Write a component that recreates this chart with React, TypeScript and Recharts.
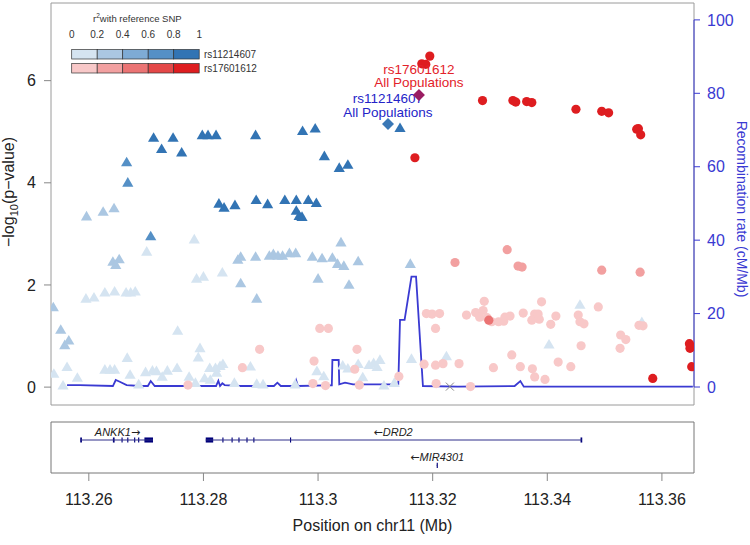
import React from "react";
import {
  ComposedChart,
  Scatter,
  Line,
  XAxis,
  YAxis,
  ReferenceArea,
  ReferenceLine,
} from "recharts";

// regional association plot: two reference SNPs, LD-coloured markers,
// recombination rate on the right axis, gene track underneath

const FONT = "'Liberation Sans', Arial, Helvetica, sans-serif";

const X_MIN = 113.2534;
const X_MAX = 113.3656;
const xTicks = [113.26, 113.28, 113.3, 113.32, 113.34, 113.36];
const pTicks = [0, 2, 4, 6];
const recTicks = [0, 20, 40, 60, 80, 100];
const ldBreaks = ["0", "0.2", "0.4", "0.6", "0.8", "1"];

const blueShades = ["#d5e4f1", "#abc7e2", "#7eabd5", "#5590c6", "#3274b4"];
const redShades = ["#f8c8c8", "#f2a0a0", "#eb7474", "#e44848", "#de1d20"];
const RECOMB_BLUE = "#3a3ad2";

// rs11214607 LD (triangles), [position Mb, -log10 p]
const blueLd5: [number, number][] = [
  [113.2713, 4.89], [113.2747, 4.89], [113.2727, 4.67], [113.2762, 4.6], [113.2798, 4.94],
  [113.2808, 4.94], [113.2822, 4.94], [113.2891, 4.94], [113.2973, 5.02], [113.2995, 5.07],
  [113.3011, 4.53], [113.3037, 4.3], [113.3052, 4.36], [113.3143, 5.08],
  [113.2827, 3.6], [113.2836, 3.52], [113.2855, 3.57], [113.2892, 3.67], [113.2912, 3.59],
  [113.2942, 3.67], [113.2962, 3.67], [113.2983, 3.67], [113.2997, 3.61], [113.2962, 3.46],
  [113.2967, 3.36], [113.2972, 3.34],
];
const blueLd4: [number, number][] = [[113.2666, 4.41], [113.2668, 4.01], [113.2708, 2.96]];
const blueLd2: [number, number][] = [
  [113.2596, 3.35], [113.2625, 3.44], [113.2644, 3.51], [113.2642, 2.46], [113.2653, 2.51],
  [113.2647, 2.4], [113.286, 2.5], [113.2865, 2.56], [113.2891, 2.56], [113.2915, 2.58],
  [113.2922, 2.61], [113.293, 2.58], [113.2938, 2.58], [113.295, 2.63], [113.2961, 2.63],
  [113.299, 2.56], [113.3007, 2.53], [113.3025, 2.54], [113.3034, 2.42], [113.3045, 2.38],
  [113.307, 2.47], [113.304, 2.84], [113.3, 2.13], [113.2865, 2.04], [113.2893, 1.74],
  [113.3054, 2.01], [113.3161, 2.42], [113.2538, 1.57], [113.2551, 1.13], [113.2558, 0.83],
  [113.2565, 0.92],
];
const blueLd1: [number, number][] = [
  [113.2701, 2.66], [113.2784, 2.9], [113.2788, 2.13], [113.28, 2.17], [113.2833, 2.25],
  [113.2595, 1.74], [113.2609, 1.76], [113.2628, 1.86], [113.2645, 1.88], [113.2665, 1.86],
  [113.2673, 1.86], [113.2681, 1.88], [113.2755, 1.11], [113.2794, 0.77], [113.2791, 0.59],
  [113.3163, 0.56], [113.2539, 0.27], [113.2562, 0.4], [113.258, 0.19], [113.2555, 0.04],
  [113.2667, 0.58], [113.2628, 0.35], [113.2637, 0.35], [113.2645, 0.35], [113.2672, 0.25],
  [113.2687, 0.06], [113.2699, 0.3], [113.2711, 0.33], [113.2718, 0.32], [113.2728, 0.21],
  [113.2737, 0.33], [113.2754, 0.38], [113.2775, 0.21], [113.2786, 0.09], [113.2802, 0.18],
  [113.2812, 0.15], [113.2811, 0.38], [113.2821, 0.38], [113.2829, 0.42], [113.2834, 0.46],
  [113.2823, 0.29], [113.2854, 0.09], [113.2882, 0.41], [113.2893, 0.07], [113.2904, 0.06],
  [113.296, 0.06], [113.2998, 0.32], [113.301, 0.22], [113.3043, 0.43], [113.3052, 0.37],
  [113.307, 0.46], [113.3078, 0.2], [113.3089, 0.44], [113.3097, 0.48], [113.3108, 0.54],
  [113.3103, 0.4], [113.3115, 0.04], [113.3133, 0.09], [113.3224, 0.61], [113.3403, 0.84],
  [113.3457, 1.62], [113.3565, 1.28],
];

// rs17601612 LD (circles)
const redLd5: [number, number][] = [
  [113.3195, 6.48], [113.3181, 6.33], [113.3188, 6.32], [113.3287, 5.61], [113.334, 5.61],
  [113.3345, 5.58], [113.3364, 5.59], [113.3373, 5.57], [113.345, 5.44], [113.3495, 5.4],
  [113.3507, 5.37], [113.3556, 5.05], [113.3559, 5.06], [113.3563, 4.94], [113.3169, 4.49],
  [113.3584, 0.17], [113.3648, 0.85], [113.3649, 0.76], [113.365, 0.79], [113.3652, 0.4],
];
const redLd3: [number, number][] = [[113.3298, 1.31]];
const redLd2: [number, number][] = [
  [113.3239, 2.44], [113.333, 2.69], [113.3349, 2.37], [113.3356, 2.35], [113.3495, 2.29],
  [113.3562, 2.25],
];
const redLd1: [number, number][] = [
  [113.2773, 0.04], [113.2868, 0.38], [113.2898, 0.74], [113.3003, 1.15], [113.3018, 1.15],
  [113.2993, 0.51], [113.2991, 0.07], [113.3013, 0.03], [113.3068, 0.74], [113.3064, 0.35],
  [113.3072, 0.04], [113.3141, 0.21], [113.3189, 1.44], [113.3199, 1.43], [113.3212, 1.44],
  [113.3205, 1.15], [113.3185, 0.45], [113.3205, 0.43], [113.3218, 0.46], [113.3206, 0.07],
  [113.3246, 0.46], [113.3266, 0.01], [113.3259, 1.41], [113.3275, 1.46], [113.3282, 1.37],
  [113.3288, 1.5], [113.3295, 1.36], [113.329, 1.68], [113.3303, 1.28], [113.3315, 1.28],
  [113.3324, 1.29], [113.3326, 1.37], [113.3335, 1.39], [113.3358, 1.45], [113.3373, 1.31],
  [113.3378, 1.43], [113.3384, 1.43], [113.3386, 1.33], [113.339, 1.67], [113.3406, 1.23],
  [113.3415, 1.39], [113.3454, 1.41], [113.3457, 1.28], [113.3464, 1.24], [113.3489, 1.57],
  [113.356, 1.21], [113.3567, 1.2], [113.3528, 1.02], [113.3537, 0.93], [113.3527, 0.76],
  [113.3459, 0.81], [113.3338, 0.63], [113.3306, 0.38], [113.3353, 0.4], [113.3374, 0.36],
  [113.3378, 0.2], [113.3419, 0.49], [113.3441, 0.4], [113.3396, 0.15],
];
const noLd: [number, number][] = [[113.323, 0.01]];

const refSnpIds = ["rs11214607", "rs17601612"];
const refSnpPos = [113.3122, 113.3176];
const refSnpLogP = [5.15, 5.72];
const refSnpColors = ["#3a78b6", "#9a1c62"];
const refLabelColors = ["#2424c8", "#e3222a"];

// recombination rate, [position Mb, cM/Mb]
const recomb: [number, number][] = [
  [113.2562, 0.54], [113.2584, 0.54], [113.2642, 0.27], [113.2647, 1.9], [113.2654, 1.44],
  [113.2666, 0.54], [113.2689, 0.27], [113.2703, 0.27], [113.2708, 1.63], [113.2715, 0.27],
  [113.2822, 0.27], [113.2826, 1.72], [113.2829, 0.27], [113.2833, 1.0], [113.2837, 0.54],
  [113.2864, 0.27], [113.2923, 0.27], [113.2929, 1.17], [113.2935, 0.27], [113.296, 0.27],
  [113.2962, 1.72], [113.2965, 0.27], [113.3015, 0.46], [113.3024, 0.46], [113.3025, 7.36],
  [113.3036, 7.36], [113.3037, 0.74], [113.3047, 1.17], [113.3061, 0.74], [113.314, 0.74],
  [113.3143, 18.26], [113.3151, 18.26], [113.3163, 30.05], [113.3171, 30.05], [113.3183, 0.27],
  [113.3244, 0.08], [113.3343, 0.27], [113.3353, 1.63], [113.3359, 0.08], [113.3654, 0.08],
];

// genes
const geneNames = ["ANKK1", "DRD2", "MIR4301"];
const geneStrand = ["+", "-", "-"];
const geneStart = [113.2586, 113.2804, 113.3207];
const geneEnd = [113.2712, 113.346, 113.3209];
const geneRow = [0.647, 0.647, 0.15];
const geneLabelPos = [113.265, 113.3131, 113.3208];
const geneExons: [number, number][][] = [
  [[113.2585, 113.2588], [113.2642, 113.2645], [113.2657, 113.2659], [113.2667, 113.2669],
   [113.2679, 113.2681], [113.2686, 113.2688], [113.2697, 113.2712]],
  [[113.2804, 113.2817], [113.2833, 113.2835], [113.2849, 113.2851], [113.2861, 113.2863],
   [113.2875, 113.2877], [113.2887, 113.2889], [113.2951, 113.2953], [113.3458, 113.3461]],
  [[113.3207, 113.3209]],
];

const pts = (arr: [number, number][]) => arr.map(([pos, logp]) => ({ pos, logp }));

const triangle = (fill: string) => (p: any) => (
  <polygon
    points={`${p.cx},${p.cy - 5.2} ${p.cx - 5.6},${p.cy + 4.4} ${p.cx + 5.6},${p.cy + 4.4}`}
    fill={fill}
  />
);
const circle = (fill: string) => (p: any) => <circle cx={p.cx} cy={p.cy} r={4.6} fill={fill} />;
const cross = (p: any) => (
  <g stroke="#888" strokeWidth={1}>
    <line x1={p.cx - 4} y1={p.cy - 4} x2={p.cx + 4} y2={p.cy + 4} />
    <line x1={p.cx - 4} y1={p.cy + 4} x2={p.cx + 4} y2={p.cy - 4} />
  </g>
);

function RefSnp(p: any) {
  const i = p.payload.idx;
  const { cx, cy } = p;
  return (
    <g>
      <polygon
        points={`${cx},${cy - 6} ${cx + 6},${cy} ${cx},${cy + 6} ${cx - 6},${cy}`}
        fill={refSnpColors[i]}
      />
      <text x={cx} y={cy - 21} textAnchor="middle" fontSize={13.5} fill={refLabelColors[i]} fontFamily={FONT}>
        {refSnpIds[i]}
      </text>
      <text x={cx} y={cy - 7.5} textAnchor="middle" fontSize={13.5} fill={refLabelColors[i]} fontFamily={FONT}>
        All Populations
      </text>
    </g>
  );
}

function GeneLabel(p: any) {
  const i = p.payload.idx;
  const arrow = <tspan fontFamily="'DejaVu Sans'" fontStyle="normal">{geneStrand[i] === "+" ? "\u2192" : "\u2190"}</tspan>;
  return (
    <text x={p.cx} y={p.cy + 4} textAnchor="middle" fontSize={11} fontStyle="italic" fill="#222" fontFamily={FONT}>
      {geneStrand[i] === "+" ? <>{geneNames[i]}{arrow}</> : <>{arrow}{geneNames[i]}</>}
    </text>
  );
}

function Legend() {
  const x0 = 71.7;
  const w = 25.5;
  return (
    <g fontFamily={FONT} fill="#333">
      <text x={93} y={22} fontSize={9.5}>
        r<tspan fontSize={6.5} dy={-4}>2</tspan>
        <tspan dy={4}>with reference SNP</tspan>
      </text>
      {ldBreaks.map((b, i) => (
        <text key={b} x={x0 + i * w} y={38} fontSize={10} textAnchor="middle">
          {b}
        </text>
      ))}
      {[blueShades, redShades].map((shades, r) => (
        <g key={r}>
          {shades.map((c, i) => (
            <rect key={c} x={x0 + i * w} y={49.5 + r * 14} width={w} height={9.5} fill={c} stroke="#333" strokeWidth={0.7} />
          ))}
          <text x={204} y={58 + r * 14} fontSize={10}>
            {refSnpIds[r]}
          </text>
        </g>
      ))}
    </g>
  );
}

export default function App() {
  const refData = refSnpPos.map((pos, idx) => ({ pos, logp: refSnpLogP[idx], idx }));
  const recData = recomb.map(([pos, rate]) => ({ pos, rate }));
  const labelData = geneLabelPos.map((pos, idx) => ({ pos, y: geneRow[idx] + 0.16, idx }));

  return (
    <div style={{ position: "absolute", left: 0, top: 0, width: 750, height: 545, background: "#fff", fontFamily: FONT }}>
      <div style={{ position: "absolute", left: 0, top: 0 }}>
        <ComposedChart width={750} height={410} margin={{ top: 3, right: 0, bottom: 5, left: 0 }}>
          <XAxis type="number" dataKey="pos" domain={[X_MIN, X_MAX]} allowDataOverflow hide />
          <YAxis
            yAxisId="left"
            type="number"
            dataKey="logp"
            width={51}
            domain={[-0.35, 7.52]}
            allowDataOverflow
            ticks={pTicks}
            axisLine={false}
            tickSize={7}
            tickMargin={8}
            tickLine={{ stroke: "#888" }}
            tick={{ fill: "#222", fontSize: 16, fontFamily: FONT }}
          />
          <YAxis
            yAxisId="right"
            orientation="right"
            type="number"
            dataKey="rate"
            width={56}
            domain={[-4.9, 104.6]}
            allowDataOverflow
            ticks={recTicks}
            axisLine={false}
            tickSize={6}
            tickMargin={7}
            tickLine={{ stroke: RECOMB_BLUE }}
            tick={{ fill: RECOMB_BLUE, fontSize: 16, fontFamily: FONT }}
          />
          <ReferenceArea
            yAxisId="left"
            x1={X_MIN}
            x2={X_MAX}
            y1={-0.35}
            y2={7.52}
            fill="none"
            stroke="#9a9a9a"
            ifOverflow="visible"
          />
          <ReferenceLine
            yAxisId="right"
            segment={[{ x: X_MAX, y: 0 }, { x: X_MAX, y: 100 }]}
            stroke={RECOMB_BLUE}
            ifOverflow="visible"
          />
          <Line
            yAxisId="right"
            data={recData}
            dataKey="rate"
            type="linear"
            stroke={RECOMB_BLUE}
            strokeWidth={1.8}
            dot={false}
            isAnimationActive={false}
          />
          <Scatter yAxisId="left" data={pts(blueLd1)} shape={triangle(blueShades[0])} isAnimationActive={false} />
          <Scatter yAxisId="left" data={pts(redLd1)} shape={circle(redShades[0])} isAnimationActive={false} />
          <Scatter yAxisId="left" data={pts(blueLd2)} shape={triangle(blueShades[1])} isAnimationActive={false} />
          <Scatter yAxisId="left" data={pts(redLd2)} shape={circle(redShades[1])} isAnimationActive={false} />
          <Scatter yAxisId="left" data={pts(redLd3)} shape={circle(redShades[2])} isAnimationActive={false} />
          <Scatter yAxisId="left" data={pts(blueLd4)} shape={triangle(blueShades[3])} isAnimationActive={false} />
          <Scatter yAxisId="left" data={pts(blueLd5)} shape={triangle(blueShades[4])} isAnimationActive={false} />
          <Scatter yAxisId="left" data={pts(redLd5)} shape={circle(redShades[4])} isAnimationActive={false} />
          <Scatter yAxisId="left" data={pts(noLd)} shape={cross} isAnimationActive={false} />
          <Scatter yAxisId="left" data={refData} shape={RefSnp} isAnimationActive={false} />
        </ComposedChart>
      </div>

      <div style={{ position: "absolute", left: 0, top: 410 }}>
        <ComposedChart width={750} height={135} margin={{ top: 12, right: 56, bottom: 0, left: 51 }}>
          <XAxis
            type="number"
            dataKey="pos"
            domain={[X_MIN, X_MAX]}
            allowDataOverflow
            ticks={xTicks}
            interval={0}
            height={72}
            axisLine={false}
            tickSize={8}
            tickMargin={13}
            tickLine={{ stroke: "#888" }}
            tick={{ fill: "#222", fontSize: 16, fontFamily: FONT }}
            tickFormatter={(v: number) => String(Number(v.toFixed(2)))}
          />
          <YAxis type="number" dataKey="y" domain={[0, 1]} allowDataOverflow hide />
          <ReferenceArea x1={X_MIN} x2={X_MAX} y1={0} y2={1} fill="none" stroke="#777" ifOverflow="visible" />
          {geneNames.map((g, i) => (
            <ReferenceLine
              key={g}
              segment={[{ x: geneStart[i], y: geneRow[i] }, { x: geneEnd[i], y: geneRow[i] }]}
              stroke="#2e2e8a"
              strokeWidth={1}
            />
          ))}
          {geneExons.map((exons, i) =>
            exons.map(([a, b], j) => (
              <ReferenceArea
                key={`${i}-${j}`}
                x1={a}
                x2={b}
                y1={geneRow[i] - 0.05}
                y2={geneRow[i] + 0.05}
                fill="#00007a"
                fillOpacity={1}
                stroke="none"
              />
            ))
          )}
          <Scatter data={labelData} shape={GeneLabel} isAnimationActive={false} />
        </ComposedChart>
      </div>

      <svg width={750} height={545} style={{ position: "absolute", left: 0, top: 0, pointerEvents: "none" }}>
        <Legend />
        <text transform="translate(14,192) rotate(-90)" textAnchor="middle" fontSize={16} fill="#222" fontFamily={FONT}>
          {"\u2212log"}
          <tspan fontSize={11} dy={4}>10</tspan>
          <tspan dy={-4}>{"(p\u2212value)"}</tspan>
        </text>
        <text transform="translate(737,209) rotate(90)" textAnchor="middle" fontSize={14} fill={RECOMB_BLUE} fontFamily={FONT}>
          Recombination rate (cM/Mb)
        </text>
        <text x={372.5} y={531} textAnchor="middle" fontSize={16} fill="#222" fontFamily={FONT}>
          Position on chr11 (Mb)
        </text>
      </svg>
    </div>
  );
}
